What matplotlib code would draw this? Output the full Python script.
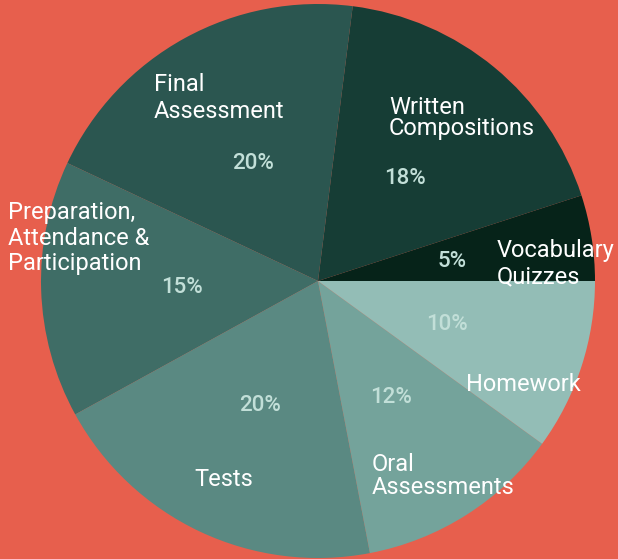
import numpy as np
import matplotlib.pyplot as plt

categories = ["Vocabulary\nQuizzes", "Written\nCompositions", "Final\nAssessment",
              "Preparation,\nAttendance &\nParticipation", "Tests",
              "Oral\nAssessments", "Homework"]
shares = [5, 18, 20, 15, 20, 12, 10]

colors = ["#062319", "#163d35", "#2b5650", "#3f6d66", "#5a8982", "#74a39b", "#93bdb6"]
bg = "#e75f4d"

# label anchor points (left edge, vertical centre), in pie units, and line spacing
label_pos = [(0.646, 0.062), (0.256, 0.589), (-0.592, 0.661), (-1.119, 0.155),
             (-0.448, -0.715), (0.195, -0.704), (0.534, -0.372)]
label_ls = [1.2, 0.9, 1.25, 1.15, 1.0, 0.95, 1.0]

plt.rcParams['font.family'] = ['Roboto', 'DejaVu Sans']

fig = plt.figure(figsize=(6.18, 5.59), dpi=100, facecolor=bg)
ax = fig.add_axes([0, 0, 1, 1])
ax.set_facecolor(bg)

wedges, texts, autotexts = ax.pie(shares, colors=colors, startangle=0, counterclock=True,
                                  autopct='%d%%', pctdistance=0.49, radius=1,
                                  wedgeprops=dict(linewidth=0))
for t in autotexts:
    t.set_color("#c2dfd8")
    t.set_fontsize(16)
    t.set_fontweight('medium')
    x, y = t.get_position()
    t.set_position((x, y - 0.007))

for lab, (x, y), ls in zip(categories, label_pos, label_ls):
    ax.text(x, y, lab, color="white", fontsize=17, ha='left', va='center', linespacing=ls)

ax.set_xlim(-318 / 277, 300 / 277)
ax.set_ylim(-278 / 277, 281 / 277)
ax.set_aspect('auto')
ax.axis('off')

fig.savefig("out.png", dpi=100, facecolor=bg)
